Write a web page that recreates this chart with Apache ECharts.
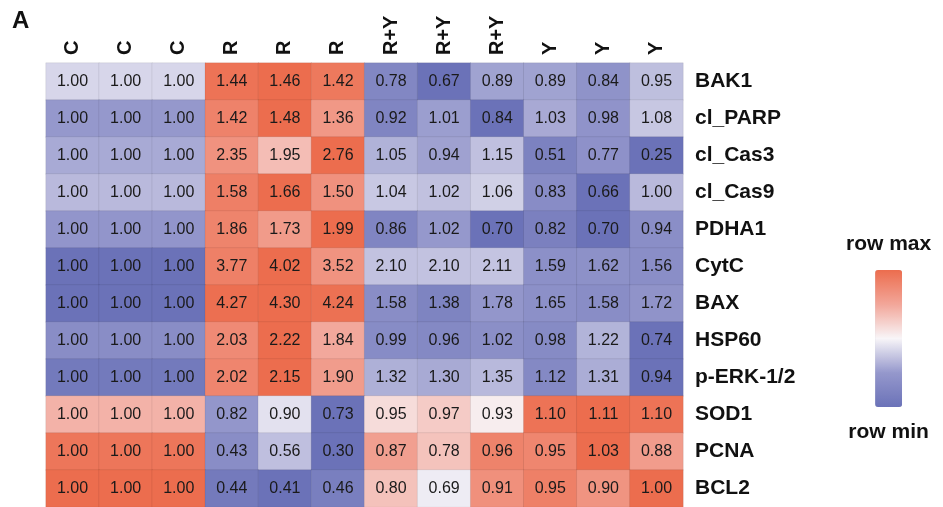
<!DOCTYPE html>
<html>
<head>
<meta charset="utf-8">
<script src="https://cdn.jsdelivr.net/npm/echarts@6/dist/echarts.min.js"></script>
<style>
  html, body { margin: 0; padding: 0; background: #fff; }
  #chart { width: 943px; height: 507px; }
</style>
</head>
<body>
<div id="chart"></div>
<script>
// column groups and protein rows
const groups = ['C', 'C', 'C', 'R', 'R', 'R', 'R+Y', 'R+Y', 'R+Y', 'Y', 'Y', 'Y'];
const proteins = ['BAK1', 'cl_PARP', 'cl_Cas3', 'cl_Cas9', 'PDHA1', 'CytC', 'BAX', 'HSP60', 'p-ERK-1/2', 'SOD1', 'PCNA', 'BCL2'];

// fold change per row (relative to C)
const BAK1    = [1.00, 1.00, 1.00, 1.44, 1.46, 1.42, 0.78, 0.67, 0.89, 0.89, 0.84, 0.95];
const clPARP  = [1.00, 1.00, 1.00, 1.42, 1.48, 1.36, 0.92, 1.01, 0.84, 1.03, 0.98, 1.08];
const clCas3  = [1.00, 1.00, 1.00, 2.35, 1.95, 2.76, 1.05, 0.94, 1.15, 0.51, 0.77, 0.25];
const clCas9  = [1.00, 1.00, 1.00, 1.58, 1.66, 1.50, 1.04, 1.02, 1.06, 0.83, 0.66, 1.00];
const PDHA1   = [1.00, 1.00, 1.00, 1.86, 1.73, 1.99, 0.86, 1.02, 0.70, 0.82, 0.70, 0.94];
const CytC    = [1.00, 1.00, 1.00, 3.77, 4.02, 3.52, 2.10, 2.10, 2.11, 1.59, 1.62, 1.56];
const BAX     = [1.00, 1.00, 1.00, 4.27, 4.30, 4.24, 1.58, 1.38, 1.78, 1.65, 1.58, 1.72];
const HSP60   = [1.00, 1.00, 1.00, 2.03, 2.22, 1.84, 0.99, 0.96, 1.02, 0.98, 1.22, 0.74];
const pERK    = [1.00, 1.00, 1.00, 2.02, 2.15, 1.90, 1.32, 1.30, 1.35, 1.12, 1.31, 0.94];
const SOD1    = [1.00, 1.00, 1.00, 0.82, 0.90, 0.73, 0.95, 0.97, 0.93, 1.10, 1.11, 1.10];
const PCNA    = [1.00, 1.00, 1.00, 0.43, 0.56, 0.30, 0.87, 0.78, 0.96, 0.95, 1.03, 0.88];
const BCL2    = [1.00, 1.00, 1.00, 0.44, 0.41, 0.46, 0.80, 0.69, 0.91, 0.95, 0.90, 1.00];

const rows = [BAK1, clPARP, clCas3, clCas9, PDHA1, CytC, BAX, HSP60, pERK, SOD1, PCNA, BCL2];

// 按行归一化：行最小 -> 0，行最大 -> 1
const cells = [];
rows.forEach((vals, r) => {
  const lo = Math.min(...vals);
  const hi = Math.max(...vals);
  vals.forEach((v, c) => {
    cells.push([c, r, (v - lo) / (hi - lo), v]);
  });
});

const FONT = '"Liberation Sans", Arial, sans-serif';

const chart = echarts.init(document.getElementById('chart'));
chart.setOption({
  backgroundColor: '#fff',
  animation: false,
  title: {
    text: 'A',
    left: 7,
    top: 4,
    textStyle: { fontSize: 24, fontWeight: 'bold', color: '#111', fontFamily: FONT }
  },
  grid: { left: 46, right: 260, top: 63, bottom: 0 },
  xAxis: {
    type: 'category',
    position: 'top',
    data: groups,
    axisLine: { show: false },
    axisTick: { show: false },
    splitArea: { show: false },
    axisLabel: {
      rotate: -90,
      margin: 8,
      fontSize: 20,
      fontWeight: 'bold',
      color: '#111',
      fontFamily: FONT
    }
  },
  yAxis: {
    type: 'category',
    position: 'right',
    inverse: true,
    data: proteins,
    axisLine: { show: false },
    axisTick: { show: false },
    axisLabel: {
      margin: 12,
      fontSize: 21,
      fontWeight: 'bold',
      color: '#111',
      fontFamily: FONT
    }
  },
  visualMap: {
    type: 'continuous',
    dimension: 2,
    min: 0,
    max: 1,
    calculable: false,
    orient: 'vertical',
    left: 831,
    top: 219,
    itemWidth: 27,
    itemHeight: 137,
    textGap: 15,
    text: ['row max', 'row min'],
    textStyle: { fontSize: 21, fontWeight: 'bold', color: '#111', fontFamily: FONT },
    inRange: { color: ['#6b72b8', '#9598cc', '#f8f5f8', '#f2a699', '#ec6d4e'] }
  },
  series: [{
    type: 'heatmap',
    data: cells,
    itemStyle: { borderColor: 'rgba(0,0,0,0.07)', borderWidth: 1 },
    label: {
      show: true,
      fontSize: 16,
      color: '#1a1a1a',
      fontFamily: FONT,
      formatter: p => p.data[3].toFixed(2)
    }
  }]
});
</script>
</body>
</html>
